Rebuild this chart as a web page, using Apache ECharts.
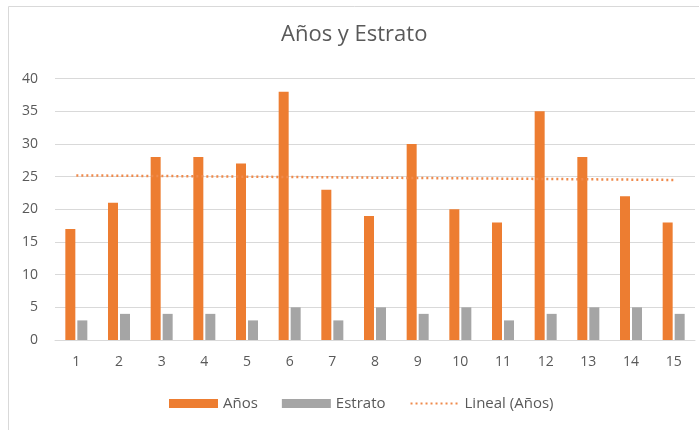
<!DOCTYPE html>
<html>
<head>
<meta charset="utf-8">
<script src="https://cdn.jsdelivr.net/npm/echarts@6/dist/echarts.min.js"></script>
<style>html,body{margin:0;padding:0;background:#fff;}#c{width:699px;height:430px;}</style>
</head>
<body>
<div id="c"></div>
<script>
const categories = ['1','2','3','4','5','6','7','8','9','10','11','12','13','14','15'];
const anos = [17,21,28,28,27,38,23,19,30,20,18,35,28,22,18];
const estrato = [3,4,4,4,3,5,3,5,4,5,3,4,5,5,4];
// trendline end points (first and last category)
const trendStart = 25.2;
const trendEnd = 24.5;
const yTicks = [0,5,10,15,20,25,30,35,40];

const font = "'Open Sans', 'Liberation Sans', sans-serif";
const chart = echarts.init(document.getElementById('c'));
chart.setOption({
  animation: false,
  backgroundColor: '#fff',
  graphic: [{
    type: 'rect', silent: true,
    shape: {x: 8.5, y: 6.5, width: 800, height: 600},
    style: {fill: 'none', stroke: '#d9d9d9', lineWidth: 1}
  }],
  title: {
    text: 'Años y Estrato',
    left: 281, top: 24, padding: 0,
    textStyle: {fontFamily: font, fontSize: 22, fontWeight: 'normal', color: '#595959'}
  },
  legend: {
    left: 169, top: 396, padding: 0,
    itemGap: 24,
    itemWidth: 49, itemHeight: 9,
    textStyle: {fontFamily: font, fontSize: 15, color: '#595959'},
    data: [
      {name: 'Años', icon: 'rect'},
      {name: 'Estrato', icon: 'rect'},
      {name: 'Lineal (Años)', itemStyle: {color: 'transparent', borderWidth: 0, opacity: 0}}
    ]
  },
  grid: {left: 55, right: 4, top: 78.7, bottom: 90},
  xAxis: {
    type: 'category',
    data: categories,
    axisLine: {lineStyle: {color: '#d9d9d9'}},
    axisTick: {show: false},
    axisLabel: {fontFamily: font, fontSize: 14, color: '#595959', margin: 15}
  },
  yAxis: {
    type: 'value',
    min: yTicks[0], max: yTicks[yTicks.length-1], interval: 5,
    axisLine: {show: false},
    axisTick: {show: false},
    splitLine: {lineStyle: {color: '#d9d9d9'}},
    axisLabel: {fontFamily: font, fontSize: 14, color: '#595959', margin: 17}
  },
  series: [
    {name: 'Años', type: 'bar', data: anos, barWidth: 10, barGap: '20%',
     itemStyle: {color: '#ED7D31'}},
    {name: 'Estrato', type: 'bar', data: estrato, barWidth: 10, barGap: '20%',
     itemStyle: {color: '#A5A5A5'}},
    {name: 'Lineal (Años)', type: 'line', symbol: 'none',
     data: [[0, trendStart], [categories.length-1, trendEnd]],
     lineStyle: {color: '#F08A4B', width: 2.5, type: [2, 3]},
     itemStyle: {color: '#ED7D31'}, z: 5}
  ]
});
</script>
</body>
</html>
